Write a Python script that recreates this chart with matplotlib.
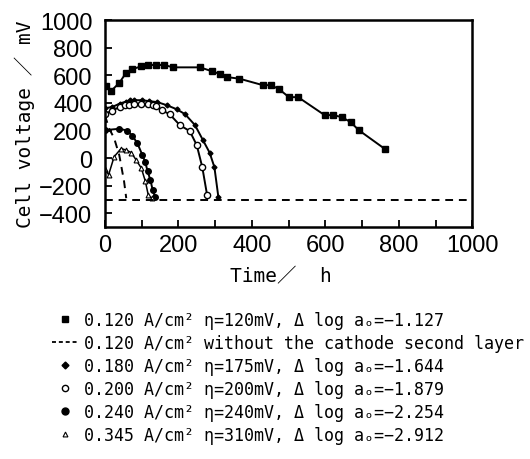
import matplotlib
matplotlib.use("Agg")
import matplotlib.pyplot as plt
from matplotlib.lines import Line2D

plt.rcParams["font.family"] = ["Liberation Sans Narrow", "Liberation Sans", "DejaVu Sans"]
MONO = ["DejaVu Sans Mono", "Noto Sans CJK JP"]

# 0.120 A/cm2
t_120 = [3, 16, 39, 57, 75, 98, 116, 140, 162, 185, 259, 291, 314, 333, 366,
         430, 452, 474, 501, 526, 598, 622, 645, 669, 691, 763]
v_120 = [522, 485, 545, 616, 645, 665, 675, 675, 675, 658, 658, 630, 609, 587, 576,
         529, 529, 500, 442, 442, 312, 312, 297, 261, 203, 65]
# 0.120 A/cm2 without the cathode second layer
t_nolayer = [0, 11, 25, 39, 52, 58]
v_nolayer = [310, 217, 145, 22, -167, -290]
# 0.180 A/cm2
t_180 = [0, 19, 40, 57, 68, 80, 100, 121, 143, 168, 195, 218, 245, 267, 285, 298, 309]
v_180 = [362, 370, 395, 410, 418, 420, 420, 413, 406, 384, 355, 319, 240, 130, 40, -65, -285]
# 0.200 A/cm2
t_200 = [0, 20, 40, 55, 66, 80, 98, 116, 130, 140, 154, 176, 204, 231, 250, 265, 278]
v_200 = [320, 345, 370, 384, 388, 391, 392, 391, 385, 376, 348, 319, 239, 196, 94, -65, -265]
# 0.240 A/cm2
t_240 = [0, 39, 61, 75, 88, 102, 110, 116, 124, 130, 137]
v_240 = [203, 213, 200, 160, 110, 22, -30, -94, -160, -232, -285]
# 0.345 A/cm2
t_345 = [0, 10, 25, 44, 58, 72, 85, 99, 110, 118, 128]
v_345 = [-75, -120, 10, 70, 58, 40, -14, -72, -167, -268, -290]

cutoff = -300

labels = [
    "0.120 A/cm² η=120mV, Δ log aₒ=−1.127",
    "0.120 A/cm² without the cathode second layer",
    "0.180 A/cm² η=175mV, Δ log aₒ=−1.644",
    "0.200 A/cm² η=200mV, Δ log aₒ=−1.879",
    "0.240 A/cm² η=240mV, Δ log aₒ=−2.254",
    "0.345 A/cm² η=310mV, Δ log aₒ=−2.912",
]

fig = plt.figure(figsize=(5.3, 4.6), dpi=100)
ax = fig.add_axes([0.198, 0.504, 0.693, 0.450])

k = "black"
ax.plot(t_120, v_120, color=k, lw=1.4, marker="s", ms=4.5, mfc=k)
ax.plot(t_nolayer, v_nolayer, color=k, lw=1.4, ls=(0, (4, 3)))
ax.plot(t_180, v_180, color=k, lw=1.4, marker="D", ms=2.5, mfc=k)
ax.plot(t_200, v_200, color=k, lw=1.4, marker="o", ms=4.5, mfc="white")
ax.plot(t_240, v_240, color=k, lw=1.4, marker="o", ms=4, mfc=k)
ax.plot(t_345, v_345, color=k, lw=1.1, marker="^", ms=3.5, mfc="white", mew=0.8)
ax.axhline(cutoff, color=k, lw=1.4, ls=(0, (4, 3)))

ax.set_xlim(0, 1000)
ax.set_ylim(-500, 1000)
ax.set_xticks(range(0, 1001, 200))
ax.set_xticks(range(100, 1000, 200), minor=True)
ax.set_yticks(range(-400, 1001, 200))
ax.set_yticklabels([str(v).replace("-", "−") for v in range(-400, 1001, 200)])
ax.tick_params(axis="both", which="both", direction="in", labelsize=17, width=1.3)
ax.tick_params(axis="both", which="major", length=5)
ax.tick_params(axis="x", which="minor", length=5)
ax.tick_params(axis="y", pad=9)
ax.tick_params(axis="x", pad=5)
for s in ax.spines.values():
    s.set_linewidth(1.8)

ax.set_ylabel("Cell voltage ／ mV", family=MONO, fontsize=14)
ax.yaxis.set_label_coords(-0.19, 0.5)
ax.set_xlabel("Time／  h", family=MONO, fontsize=14)
ax.xaxis.set_label_coords(0.48, -0.19)

handles = [
    Line2D([], [], color=k, ls="none", marker="s", ms=5),
    Line2D([], [], color=k, lw=1.3, ls=(0, (2.2, 1.6))),
    Line2D([], [], color=k, ls="none", marker="D", ms=3.5),
    Line2D([], [], color=k, ls="none", marker="o", ms=4.5, mfc="white"),
    Line2D([], [], color=k, ls="none", marker="o", ms=5),
    Line2D([], [], color=k, ls="none", marker="^", ms=3.5, mfc="white", mew=0.8),
]
fig.legend(handles, labels, loc="upper left", bbox_to_anchor=(52 / 530, 1 - 312 / 460),
           frameon=False, prop={"family": MONO, "size": 12}, handlelength=1.5,
           handletextpad=0.4, labelspacing=0.3, borderpad=0, borderaxespad=0)

fig.savefig("out.png", dpi=100)
